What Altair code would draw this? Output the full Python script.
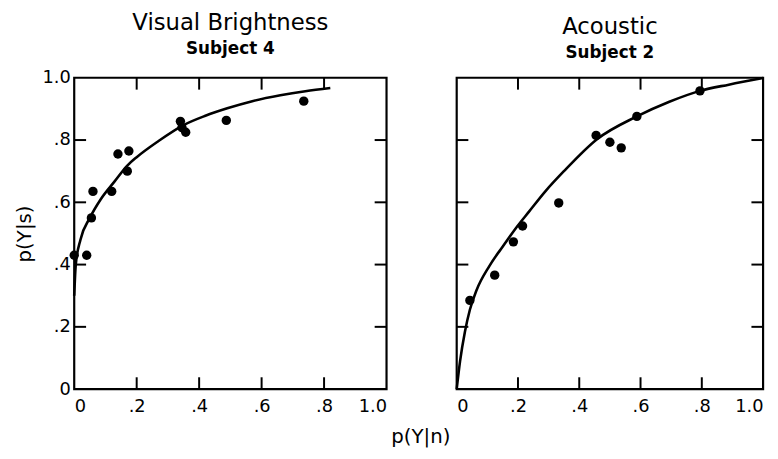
import altair as alt
import pandas as pd

# ---- data ----
left_fa = [0.0, 0.04, 0.055, 0.06, 0.12, 0.14, 0.175, 0.17, 0.34, 0.345, 0.357, 0.487, 0.735]
left_hit = [0.43, 0.43, 0.55, 0.635, 0.635, 0.755, 0.765, 0.70, 0.86, 0.84, 0.825, 0.863, 0.925]

left_curve_x = [0.0, 0.005, 0.02, 0.05, 0.085, 0.13, 0.17, 0.2, 0.27, 0.35, 0.42, 0.49, 0.57, 0.66, 0.74, 0.82]
left_curve_y = [0.30, 0.40, 0.48, 0.55, 0.61, 0.668, 0.718, 0.745, 0.797, 0.848, 0.878, 0.902, 0.925, 0.944, 0.957, 0.967]

right_fa = [0.043, 0.124, 0.185, 0.215, 0.333, 0.455, 0.50, 0.537, 0.588, 0.794]
right_hit = [0.285, 0.366, 0.473, 0.524, 0.598, 0.815, 0.793, 0.775, 0.876, 0.958]

right_curve_x = [0.0, 0.011, 0.027, 0.043, 0.064, 0.107, 0.151, 0.193, 0.236, 0.29, 0.35, 0.457, 0.588, 0.694, 0.794, 0.888, 1.0]
right_curve_y = [0.0, 0.09, 0.185, 0.255, 0.316, 0.396, 0.459, 0.517, 0.57, 0.636, 0.70, 0.802, 0.876, 0.923, 0.958, 0.978, 0.999]

tick_values = [0.2, 0.4, 0.6, 0.8]
label_values = [0, 0.2, 0.4, 0.6, 0.8, 1.0]
tick_len = 0.038

FONT = "DejaVu Sans"

label_expr = ("datum.value == 0 ? '0' : (datum.value == 1 ? '1.0' : "
              "replace(format(datum.value, '.1f'), '0.', '.'))")

ticks = []
for t in tick_values:
    ticks.append({"x": t, "x2": t, "y": 0, "y2": tick_len})
    ticks.append({"x": t, "x2": t, "y": 1, "y2": 1 - tick_len})
    ticks.append({"x": 0, "x2": tick_len, "y": t, "y2": t})
    ticks.append({"x": 1, "x2": 1 - tick_len, "y": t, "y2": t})
ticks_df = pd.DataFrame(ticks)

xscale = alt.Scale(domain=[0, 1], nice=False)
yscale = alt.Scale(domain=[0, 1], nice=False)


def panel(fa, hit, cx, cy, title, subtitle, show_y, w):
    pts = pd.DataFrame({"fa": fa, "hit": hit})
    cur = pd.DataFrame({"fa": cx, "hit": cy, "o": list(range(len(cx)))})
    xaxis = alt.Axis(values=label_values, labelExpr=label_expr, ticks=False, domain=False,
                     grid=False, title=None, labelFont=FONT, labelFontSize=18,
                     labelColor="black", labelPadding=9)
    if show_y:
        yaxis = alt.Axis(values=label_values, labelExpr=label_expr, ticks=False, domain=False,
                         grid=False, title="p(Y|s)", titleFont=FONT, titleFontSize=20,
                         titleFontWeight="normal", titleColor="black", titlePadding=8,
                         labelFont=FONT, labelFontSize=18, labelColor="black", labelPadding=4)
    else:
        yaxis = None
    base_pts = alt.Chart(pts).mark_circle(size=90, color="black", opacity=1).encode(
        x=alt.X("fa:Q", scale=xscale, axis=xaxis),
        y=alt.Y("hit:Q", scale=yscale, axis=yaxis),
    )
    line = alt.Chart(cur).mark_line(color="black", strokeWidth=2.6, interpolate="monotone").encode(
        x=alt.X("fa:Q", scale=xscale),
        y=alt.Y("hit:Q", scale=yscale),
        order="o:Q",
    )
    tk = alt.Chart(ticks_df).mark_rule(color="black", strokeWidth=2).encode(
        x=alt.X("x:Q", scale=xscale), x2="x2:Q",
        y=alt.Y("y:Q", scale=yscale), y2="y2:Q",
    )
    return alt.layer(base_pts, line, tk).properties(
        width=w, height=315,
        title=alt.TitleParams(text=title, subtitle=subtitle, font=FONT, fontSize=23,
                              fontWeight="normal", color="black", subtitleFont=FONT,
                              subtitleFontSize=17, subtitleFontWeight="bold",
                              subtitleColor="black", subtitlePadding=6, offset=12,
                              anchor="middle"),
    )


left = panel(left_fa, left_hit, left_curve_x, left_curve_y, "Visual Brightness", "Subject 4", True, 316)
right = panel(right_fa, right_hit, right_curve_x, right_curve_y, "Acoustic", "Subject 2", False, 310)

chart = alt.hconcat(left, right, spacing=61).properties(
    background="white",
    padding={"left": 5, "top": 0, "right": 0, "bottom": 0},
    title=alt.TitleParams(text="p(Y|n)", orient="bottom", anchor="middle", font=FONT,
                          fontSize=20, fontWeight="normal", color="black", offset=10, dx=30),
).configure_view(stroke="black", strokeWidth=2.2)

chart.save("out.html", embed_options={"renderer": "svg", "actions": False})
